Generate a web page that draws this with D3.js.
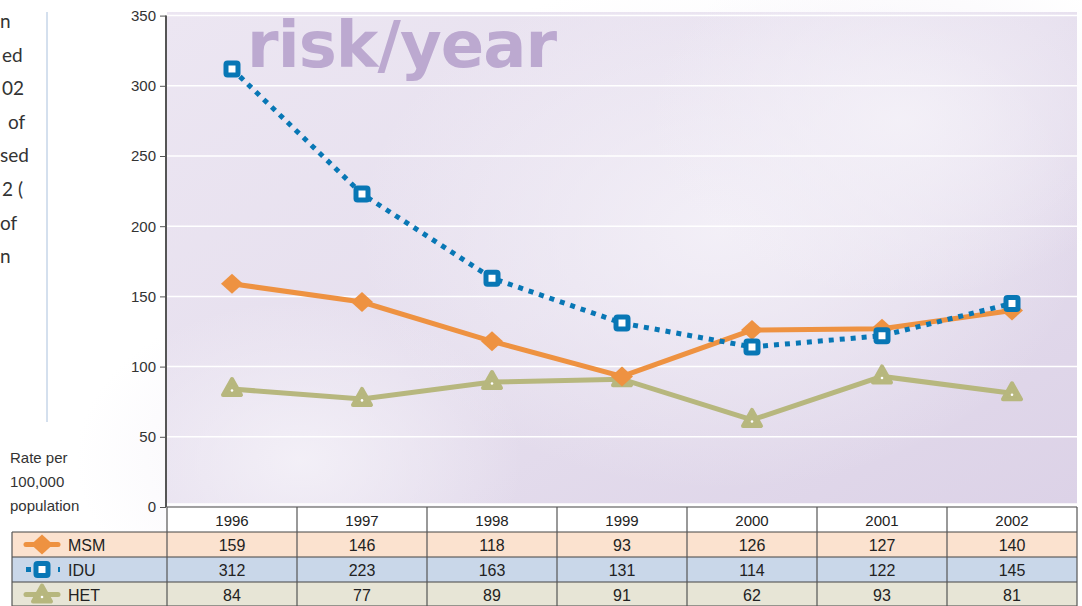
<!DOCTYPE html>
<meta charset="utf-8">
<style>
  body { margin: 0; background: #fff; }
  svg text { font-family: "Liberation Sans", Arial, sans-serif; }
</style>
<svg width="1082" height="606"></svg>
<script src="https://cdn.jsdelivr.net/npm/d3@7"></script>
<script>

var years = ["1996", "1997", "1998", "1999", "2000", "2001", "2002"];
var msm = [159, 146, 118, 93, 126, 127, 140];
var idu = [312, 223, 163, 131, 114, 122, 145];
var het = [84, 77, 89, 91, 62, 93, 81];
var yTicks = [0, 50, 100, 150, 200, 250, 300, 350];
var sideText = ["n", "ed", "02", "of", "sed", "2 (", "of", "n"];
var sideX = [0, 2, 2, 8, 0, 2, 0, 0];
var axisLabel = ["Rate per", "100,000", "population"];

var series = [
  {name: "MSM", values: msm, color: "#ee9241", row: "#fbe2cf", marker: "diamond"},
  {name: "IDU", values: idu, color: "#0877b5", row: "#c9d7e9", marker: "square"},
  {name: "HET", values: het, color: "#b7b77e", row: "#e7e5d6", marker: "triangle"}
];

var svg = d3.select("svg");

var plotLeft = 167, plotRight = 1077, plotTop = 12;

var x = d3.scaleBand().domain(years).range([plotLeft, plotRight]);
var y = d3.scaleLinear().domain([0, 350]).range([507, 15.6]);

// background
var defs = svg.append("defs");
var lg = defs.append("linearGradient").attr("id", "bg")
    .attr("x1", 0).attr("y1", 0).attr("x2", 1).attr("y2", 1);
lg.append("stop").attr("offset", 0).attr("stop-color", "#ece6f2");
lg.append("stop").attr("offset", 0.5).attr("stop-color", "#e6dfee");
lg.append("stop").attr("offset", 1).attr("stop-color", "#dcd2e7");
var rg = defs.append("radialGradient").attr("id", "glow");
rg.append("stop").attr("offset", 0).attr("stop-color", "#f4f1f8").attr("stop-opacity", 0.9);
rg.append("stop").attr("offset", 1).attr("stop-color", "#f4f1f8").attr("stop-opacity", 0);

svg.append("rect")
    .attr("x", plotLeft).attr("y", plotTop)
    .attr("width", plotRight - plotLeft).attr("height", y(0) - 3 - plotTop)
    .attr("fill", "url(#bg)");
[[720, 230, 260], [900, 120, 180], [300, 460, 160]].forEach(function(g) {
  svg.append("ellipse")
      .attr("cx", g[0]).attr("cy", g[1]).attr("rx", g[2] * 1.4).attr("ry", g[2])
      .attr("fill", "url(#glow)");
});

// grid lines
svg.append("g").selectAll("line")
  .data(yTicks)
  .join("line")
    .attr("x1", plotLeft).attr("x2", plotRight)
    .attr("y1", function(d) { return y(d) - (d === 0 ? 3 : 0); })
    .attr("y2", function(d) { return y(d) - (d === 0 ? 3 : 0); })
    .attr("stroke", "#fff").attr("stroke-width", 1.5);

// title watermark
svg.append("text")
    .attr("x", 247).attr("y", 67)
    .attr("textLength", 310)
    .style("font-family", "DejaVu Sans, sans-serif")
    .style("font-size", "64px").style("font-weight", "bold")
    .attr("fill", "#bca9d0")
    .text("risk/year");

// y axis
var yAxis = svg.append("g")
    .attr("transform", "translate(" + (plotLeft - 1) + ",0)")
    .call(d3.axisLeft(y).tickValues(yTicks).tickSize(6).tickPadding(4));
yAxis.select(".domain").attr("stroke", "#555").attr("stroke-width", 2)
    .attr("d", "M0," + y(350) + "V" + y(0));
yAxis.selectAll(".tick line").attr("stroke", "#555");
yAxis.selectAll(".tick text").attr("fill", "#333").style("font-size", "15px")
    .style("font-family", "Liberation Sans, Arial, sans-serif");

// markers
function drawMarker(g, s, cx, cy) {
  if (s.marker === "diamond") {
    g.append("path")
        .attr("d", "M" + cx + "," + (cy - 10) + "L" + (cx + 11) + "," + cy +
              "L" + cx + "," + (cy + 10) + "L" + (cx - 11) + "," + cy + "Z")
        .attr("fill", s.color);
  } else if (s.marker === "square") {
    g.append("rect")
        .attr("x", cx - 6).attr("y", cy - 6).attr("width", 12).attr("height", 12)
        .attr("rx", 1.5)
        .attr("fill", "#fff").attr("stroke", s.color).attr("stroke-width", 5);
  } else {
    g.append("path")
        .attr("d", "M" + cx + "," + (cy - 10) + "L" + (cx + 9) + "," + (cy + 6) +
              "L" + (cx - 9) + "," + (cy + 6) + "Z")
        .attr("fill", s.color).attr("stroke", s.color)
        .attr("stroke-width", 4).attr("stroke-linejoin", "round");
    g.append("circle").attr("cx", cx).attr("cy", cy + 1.5).attr("r", 1.3).attr("fill", "#fff");
  }
}

var line = d3.line()
    .x(function(d, i) { return x(years[i]) + x.bandwidth() / 2; })
    .y(function(d) { return y(d); });

var drawOrder = [series[2], series[0], series[1]];
drawOrder.forEach(function(s) {
  var g = svg.append("g");
  g.append("path")
      .attr("d", line(s.values))
      .attr("fill", "none")
      .attr("stroke", s.color)
      .attr("stroke-width", 5)
      .attr("stroke-dasharray", s.marker === "square" ? "5,6" : null);
  s.values.forEach(function(v, i) {
    drawMarker(g, s, x(years[i]) + x.bandwidth() / 2, y(v));
  });
});

// table
var rowH = 25, headTop = 507;
var table = svg.append("g");
table.append("rect")
    .attr("x", plotLeft).attr("y", headTop).attr("width", plotRight - plotLeft).attr("height", rowH)
    .attr("fill", "#fff");
series.forEach(function(s, r) {
  table.append("rect")
      .attr("x", 12).attr("y", headTop + rowH * (r + 1))
      .attr("width", plotRight - 12).attr("height", rowH)
      .attr("fill", s.row);
});

// header text
table.selectAll("text.year")
  .data(years)
  .join("text")
    .attr("class", "year")
    .attr("x", function(d) { return x(d) + x.bandwidth() / 2; })
    .attr("y", headTop + 19)
    .attr("text-anchor", "middle")
    .attr("fill", "#222")
    .style("font-size", "15px")
    .text(function(d) { return d; });

series.forEach(function(s, r) {
  var rowY = headTop + rowH * (r + 1);
  table.selectAll("text.v" + r)
    .data(s.values)
    .join("text")
      .attr("x", function(d, i) { return x(years[i]) + x.bandwidth() / 2; })
      .attr("y", rowY + 19)
      .attr("text-anchor", "middle")
      .attr("fill", "#222")
      .style("font-size", "16px")
      .text(function(d) { return d; });

  // legend sample
  var cy = rowY + rowH / 2;
  var lgG = table.append("g");
  if (s.marker === "square") {
    lgG.append("line").attr("x1", 26).attr("x2", 60).attr("y1", cy).attr("y2", cy)
        .attr("stroke", s.color).attr("stroke-width", 5).attr("stroke-dasharray", "5,11");
  } else {
    lgG.append("line").attr("x1", 26).attr("x2", 58).attr("y1", cy).attr("y2", cy)
        .attr("stroke", s.color).attr("stroke-width", 5).attr("stroke-linecap", "round");
  }
  drawMarker(lgG, s, 42, cy + (s.marker === "triangle" ? 1 : 0));
  table.append("text")
      .attr("x", 68).attr("y", rowY + 19)
      .attr("fill", "#222")
      .style("font-size", "16px")
      .text(s.name);
});

// table lines
var hLines = [
  [plotLeft, headTop], [12, headTop + rowH], [12, headTop + rowH * 2],
  [12, headTop + rowH * 3], [12, headTop + rowH * 4 - 1]
];
hLines.forEach(function(h) {
  table.append("line")
      .attr("x1", h[0]).attr("x2", plotRight).attr("y1", h[1]).attr("y2", h[1])
      .attr("stroke", "#444").attr("stroke-width", 1.2);
});
table.selectAll("line.col")
  .data(years.concat(["end"]))
  .join("line")
    .attr("x1", function(d, i) { return i < years.length ? x(d) : plotRight; })
    .attr("x2", function(d, i) { return i < years.length ? x(d) : plotRight; })
    .attr("y1", headTop).attr("y2", 606)
    .attr("stroke", "#555").attr("stroke-width", 1.2);
table.append("line")
    .attr("x1", 12).attr("x2", 12).attr("y1", headTop + rowH).attr("y2", 606)
    .attr("stroke", "#555").attr("stroke-width", 1.2);

// side text fragments
svg.append("line")
    .attr("x1", 47).attr("x2", 47).attr("y1", 12).attr("y2", 422)
    .attr("stroke", "#aac1dd").attr("stroke-width", 1);
svg.selectAll("text.side")
  .data(sideText)
  .join("text")
    .attr("x", function(d, i) { return sideX[i]; })
    .attr("y", function(d, i) { return 28 + i * 33.6; })
    .attr("fill", "#333")
    .style("font-family", "Lato, sans-serif")
    .style("font-size", "19px")
    .text(function(d) { return d; });

svg.selectAll("text.axlab")
  .data(axisLabel)
  .join("text")
    .attr("x", 10)
    .attr("y", function(d, i) { return 463 + i * 24; })
    .attr("fill", "#333")
    .style("font-size", "15px")
    .text(function(d) { return d; });

</script>
